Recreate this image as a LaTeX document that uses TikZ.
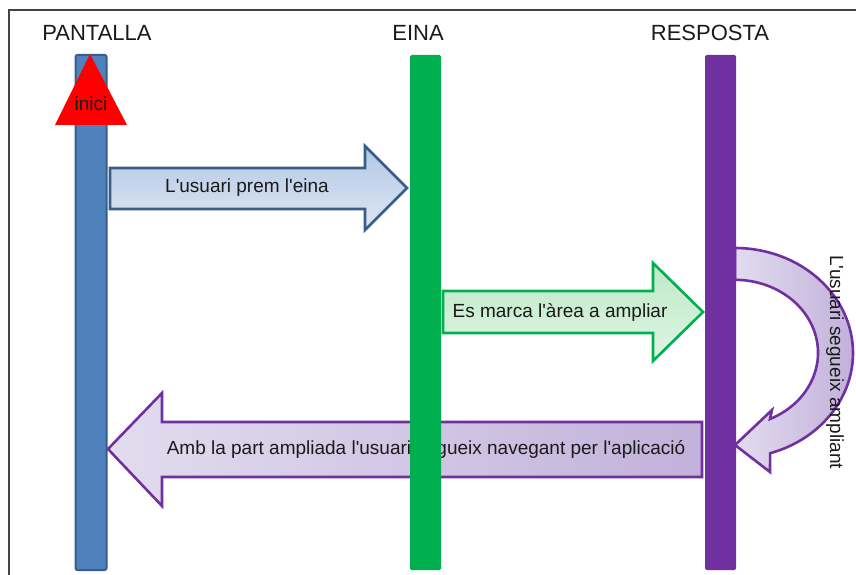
\documentclass[tikz,border=0pt]{standalone}
\usepackage{fontspec}
\setmainfont{Liberation Sans}
\definecolor{bluebar}{HTML}{4F81BD}
\definecolor{bluedark}{HTML}{385D8A}
\definecolor{greenbar}{HTML}{00B050}
\definecolor{purplebar}{HTML}{7030A0}
\definecolor{blueA}{HTML}{B3C7E5}
\definecolor{blueB}{HTML}{DDE7F4}
\definecolor{greenA}{HTML}{BDE9C6}
\definecolor{greenB}{HTML}{DFF5E4}
\definecolor{purpA}{HTML}{E2DCEF}
\definecolor{purpB}{HTML}{C2B1DA}
\definecolor{framegray}{HTML}{444444}
\definecolor{textgray}{HTML}{1A1A1A}
\newcommand{\apo}{\textquotesingle}
\begin{document}
\begin{tikzpicture}[x=1pt,y=-1pt,
  bar/.style={rectangle, minimum width=31pt, minimum height=515pt, inner sep=0pt},
  title/.style={font=\fontsize{22}{24}\selectfont, text=textgray},
  lbl/.style={font=\fontsize{19}{21}\selectfont, text=textgray, inner sep=0pt},
  blockarrow/.style={line width=2.6pt, line join=miter},
]
\useasboundingbox (0,0) rectangle (856,575);
% frame
\draw[line width=1.6pt, draw=framegray] (9,575) -- (9,10) -- (856,10);
% titles
\node[title] (tP) at (97,33) {PANTALLA};
\node[title] (tE) at (418,33) {EINA};
\node[title] (tR) at (710,33) {RESPOSTA};
% arrow 1 : PANTALLA -> EINA
\draw[blockarrow, draw=bluedark, top color=blueA, bottom color=blueB]
  (110,168) -- (365,168) -- (365,146) -- (407,188) -- (365,230) -- (365,209) -- (110,209) -- cycle;
\node[lbl] (l1) at (247,188) {L\apo usuari prem l\apo eina};
% arrow 2 : EINA -> RESPOSTA
\draw[blockarrow, draw=greenbar, top color=greenA, bottom color=greenB]
  (443,291) -- (653,291) -- (653,263) -- (703,312) -- (653,361) -- (653,333) -- (443,333) -- cycle;
\node[lbl] (l2) at (560,312) {Es marca l\apo àrea a ampliar};
% arrow 3 : RESPOSTA -> PANTALLA
\draw[blockarrow, draw=purplebar, left color=purpA, right color=purpB]
  (702,422) -- (162,422) -- (162,393) -- (108,449) -- (162,506) -- (162,477) -- (702,477) -- cycle;
\node[lbl] (l3) at (426,449) {Amb la part ampliada l\apo usuari segueix navegant per l\apo aplicació};
% curved arrow on RESPOSTA
\coordinate (cc) at (735,353);
\draw[blockarrow, draw=purplebar, left color=purpA, right color=purpB]
  (735,248) arc[start angle=-90, end angle=72.7, x radius=118, y radius=105]
  -- (770,472) -- (735,445) -- (772,410) -- (770,419)
  arc[start angle=65.06, end angle=-90, x radius=83, y radius=73] -- cycle;
% lifelines
\node[bar, fill=bluebar, draw=bluedark, line width=2pt, rounded corners=2pt] (pant) at (91,312.5) {};
\node[bar, fill=greenbar, rounded corners=1.5pt] (eina) at (425.5,312.5) {};
\node[bar, fill=purplebar, rounded corners=1.5pt] (resp) at (720.5,312.5) {};
% start marker
\fill[red] (90,54) -- (127,125) -- (55,125) -- cycle;
\node[font=\fontsize{19}{21}\selectfont, text=textgray] (inici) at (91,104) {inici};
% rotated label
\node[lbl, rotate=-90] (l4) at (835,362) {L\apo usuari segueix ampliant};
\end{tikzpicture}
\end{document}
